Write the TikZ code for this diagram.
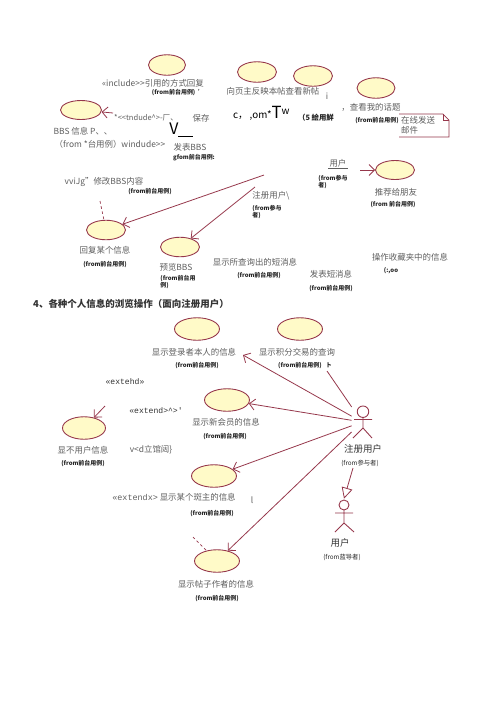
\documentclass[tikz,border=0pt]{standalone}
\usepackage{fontspec}
\setmainfont{Noto Sans CJK SC}
\setmonofont{Liberation Mono}
\definecolor{umlred}{RGB}{150,55,75}
\definecolor{ucfill}{RGB}{255,250,200}
\definecolor{txtgray}{RGB}{95,95,95}
\usetikzlibrary{arrows.meta,shapes.geometric}

\begin{document}
\begin{tikzpicture}[x=0.02cm,y=-0.02cm,
  uc/.style={ellipse,draw=umlred,fill=ucfill,line width=0.5pt,inner sep=0pt,minimum width=0.78cm,minimum height=0.41cm},
  ucb/.style={uc,minimum width=0.9cm,minimum height=0.45cm},
  lbl/.style={font=\fontsize{4.8}{5.8}\selectfont,text=txtgray,inner sep=0.5pt,align=left},
  frm/.style={font=\fontsize{3.4}{4.2}\selectfont\bfseries,text=black!85,inner sep=0.5pt,align=left},
  ster/.style={font=\fontsize{4.6}{5.6}\selectfont\ttfamily,text=black!80,inner sep=0.5pt},
  arr/.style={-{Straight Barb[length=1.1mm,width=2.2mm]},umlred,line width=0.45pt},
  dep/.style={umlred,dashed,dash pattern=on 1.5pt off 1.5pt,line width=0.4pt},
  gen/.style={-{Triangle[open,length=2.2mm,width=2.2mm,fill=white]},umlred,line width=0.45pt},
  actorline/.style={umlred,line width=0.5pt}]
  \path[fill=white] (0,0) rectangle (500,708);
  \useasboundingbox (0,0) rectangle (500,708);
  % Upper part: BBS use cases
  \node[uc,minimum width=0.74cm] (e1) at (167,65) {};
  \node[lbl] (l1) at (153,83) {«include>{}>引用的方式回复};
  \node[frm] (f1) at (178,92) {(from前台用例)\ \ '};
  \node[uc] (e2) at (257,72) {};
  \node[uc] (e3) at (313,76) {};
  \node[lbl] (l3) at (273,91) {向页主反映本帖查看新帖};
  \node[lbl] (i3) at (327,96) {i};
  \node[uc,minimum width=0.76cm] (e4) at (376,88) {};
  \node[lbl] (l4) at (371,107) {，查看我的话题};
  \node[frm] (f4) at (377,120) {(from前台用例)};
  \node[lbl,anchor=west] (note) at (400,125.5) {在线发送\\邮件};
  \draw[umlred,line width=0.4pt] (399,114) -- (443,114) -- (449,120) -- (449,137) -- (399,137);
  \draw[umlred,line width=0.4pt] (443,114) -- (443,120) -- (449,120);
  \node[lbl,anchor=west,font=\fontsize{5.6}{6}\selectfont,text=black] (l5) at (232,113)
    {c，\,,om*{\fontsize{9.5}{10}\selectfont T}\raisebox{2pt}{w}};
  \node[frm,font=\fontsize{4.2}{5}\selectfont\bfseries] (f5) at (316,118) {（5 絵用鮮};
  \node[uc,minimum width=0.82cm,minimum height=0.38cm] (e5) at (81,110) {};
  \coordinate (x5) at (113,113);
  \draw[arr] (x5) -- (e5);
  \node[lbl] (l5b) at (83,131) {BBS 信息 P、、};
  \node[lbl] (f5b) at (110,144) {（from *台用例）windude>{}>};
  \node[lbl,anchor=west,font=\fontsize{4.3}{5}\selectfont] (l6) at (113,118) {*<{}<tndude\textasciicircum>-厂、};
  \node[lbl] (l6b) at (201,118) {保存};
  \node[lbl,text=black,anchor=south west,inner sep=0pt] (vv) at (169,137)
    {{\fontsize{9}{9}\selectfont V}\rule[-1.5pt]{0.3cm}{0.5pt}};
  \node[lbl] (l7) at (190,147) {发表BBS};
  \node[frm] (f7) at (194,158) {gfom前台用例:};
  \node[lbl] (l8) at (104,182) {vviJg''修改BBS内容};
  \node[frm] (f8) at (150,191) {(from前台用例)};
  \coordinate (dep6) at (100,201);
  \node[uc,minimum height=0.39cm] (e6) at (106,230) {};
  \draw[dep] (dep6) -- (e6);
  \node[lbl] (l6c) at (105,250) {回复某个信息};
  \node[frm] (f6c) at (105,264) {(from前台用例)};
  \node[uc,minimum height=0.39cm] (e7) at (180,247) {};
  \node[lbl] (l7c) at (176,267) {预览BBS};
  \node[frm] (f7c) at (178,282) {(from前台用\\例)};
  \node[lbl] (lreg) at (271,196) {注册用户\textbackslash};
  \node[frm] (freg) at (267,212) {(from参与\\者)};
  \coordinate (regT1) at (264,175);
  \coordinate (regT2) at (255,187);
  \draw[arr] (regT1) -- (e6);
  \draw[arr] (regT2) -- (e7);
  \node[lbl] (lusr) at (338,163) {用户};
  \draw[txtgray,line width=0.5pt] (lusr.south west) -- (lusr.south east);
  \node[frm] (fusr) at (333,182) {(from参与\\者)};
  \node[uc,minimum height=0.38cm] (e8) at (395,170) {};
  \coordinate (x8) at (360,170);
  \draw[arr] (x8) -- (e8);
  \node[lbl] (l8c) at (396,192) {推荐给朋友};
  \node[frm] (f8c) at (393,204) {(from 前台用例)};
  \node[lbl] (l9) at (255,262) {显示所查询出的短消息};
  \node[frm] (f9) at (259,275) {(from前台用例)};
  \node[lbl] (l10) at (331,274) {发表短消息};
  \node[frm] (f10) at (331,288) {(from前台用例)};
  \node[lbl] (l11) at (410,257) {操作收藏夹中的信息};
  \node[frm] (f11) at (391,271) {(:,oo};
  % Lower part: personal information
  \node[lbl,font=\fontsize{5.4}{6}\selectfont\bfseries,text=black!80] (title) at (131,304) {4、各种个人信息的浏览操作（面向注册用户）};
  \node[ucb] (eLogin) at (197,329) {};
  \node[lbl] (lLogin) at (194,352) {显示登录者本人的信息};
  \node[frm] (fLogin) at (197,365) {(from前台用例)};
  \node[ucb] (eScore) at (300,329) {};
  \node[lbl] (lScore) at (297,352) {显示积分交易的查询};
  \node[frm] (fScore) at (305,365) {(from前台用例)\ \ \ ト};
  \node[ucb] (eNew) at (227,400) {};
  \node[lbl] (lNew) at (226,422) {显示新会员的信息};
  \node[frm] (fNew) at (225,436) {(from前台用例)};
  \node[ucb,minimum width=0.86cm] (eUser) at (84,428) {};
  \node[lbl] (lUser) at (83,450) {显不用户信息};
  \node[frm] (fUser) at (83,463) {(from前台用例)};
  \coordinate (xUser) at (105,406);
  \draw[arr] (xUser) -- (eUser);
  \node[ster] (s1) at (125,382) {«extehd»};
  \node[ster] (s2) at (156,411) {«extend>\textasciicircum>'};
  \node[lbl] (s3) at (151,450) {v<d立馆闼\}};
  \node[ucb] (eMod) at (214,476) {};
  \node[lbl] (lMod) at (174,497) {{\ttfamily «extendx>}\ 显示某个斑主的信息};
  \node[lbl] (kMod) at (252,500) {l};
  \node[frm] (fMod) at (212,513) {(from前台用例)};
  \node[ucb] (eAuth) at (217,561) {};
  \coordinate (dep13) at (193,537);
  \draw[dep] (dep13) -- (eAuth);
  \node[lbl] (lAuth) at (216,584) {显示帖子作者的信息};
  \node[frm] (fAuth) at (217,598) {(from前台用例)};
  % Actors
  \node[minimum width=0.4cm,minimum height=0.68cm,inner sep=0pt] (regA) at (362,422) {};
  \draw[actorline] (363,411.7) circle[radius=0.115cm];
  \draw[actorline] (363,417.5) -- (363,428) -- (353,438) (363,428) -- (372,438) (354,419.5) -- (372,419.5);
  \node[lbl,text=black!80,font=\fontsize{5.4}{6}\selectfont] (lRegA) at (363,449) {注册用户};
  \node[frm,font=\fontsize{3.6}{4.2}\selectfont] (fRegA) at (360,463) {(from参与者)};
  \node[minimum width=0.4cm,minimum height=0.68cm,inner sep=0pt] (usr) at (344,516) {};
  \draw[actorline] (344,505) circle[radius=0.1cm];
  \draw[actorline] (344,510) -- (344,523) -- (335,532) (344,523) -- (354,532) (335,513) -- (353,513);
  \node[lbl,text=black!80,font=\fontsize{5.4}{6}\selectfont] (lUsr) at (340,543) {用户};
  \node[frm,font=\fontsize{3.6}{4.2}\selectfont] (fUsr) at (342,557) {(from蓝导者)};
  \coordinate (genTop) at (353,468);
  \draw[gen] (genTop) -- (usr.north);
  % Associations of the registered user
  \coordinate (loginTip) at (243,355);
  \coordinate (scoreTip) at (327,371);
  \draw[arr] (regA) -- (loginTip);
  \draw[umlred,line width=0.45pt] (regA) -- (scoreTip);
  \draw[arr] (regA) -- (eNew);
  \draw[arr] (regA) -- (eMod);
  \draw[arr] (regA) -- (eAuth);
\end{tikzpicture}
\end{document}
